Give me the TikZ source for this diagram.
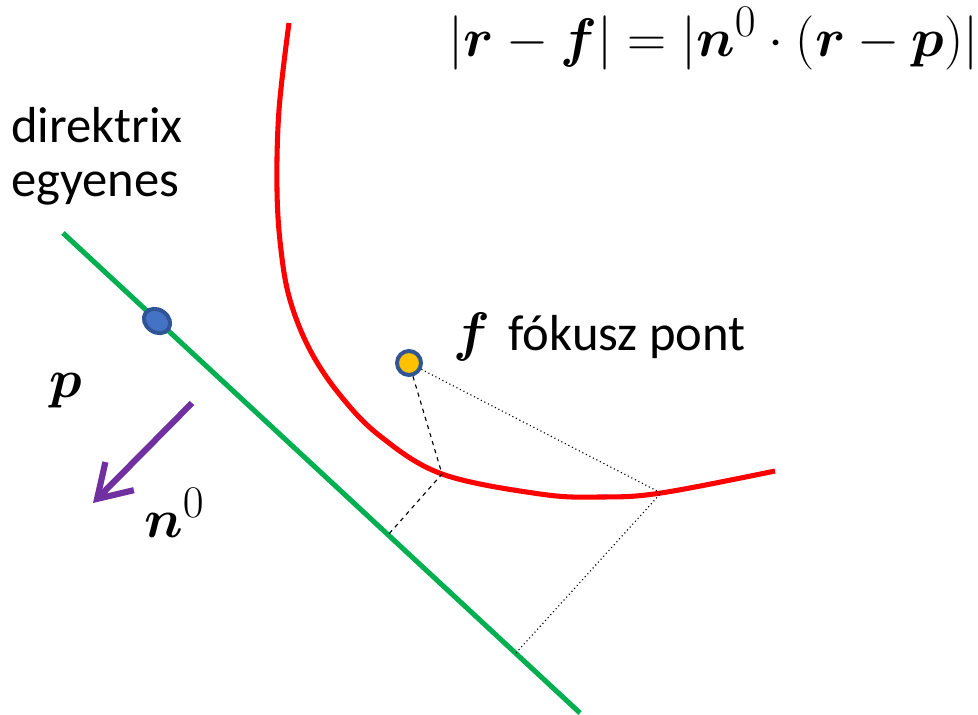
\documentclass[tikz,border=0pt]{standalone}
\usepackage{amsmath, amssymb, bm}
\usepackage{graphicx}
\usepackage{fontspec}
\setmainfont{Carlito}
\usepackage{tikz}
\usetikzlibrary{arrows.meta, positioning, shapes.geometric}
\definecolor{direktrixgreen}{RGB}{0,176,80}
\definecolor{parabolared}{RGB}{255,0,0}
\definecolor{normalpurple}{RGB}{112,48,160}
\definecolor{pointblue}{RGB}{68,114,196}
\definecolor{rimblue}{RGB}{47,85,151}
\definecolor{focusyellow}{RGB}{255,192,0}
% nagy matek: a cm fontok 24.88pt felett nem skalazodnak
\newcommand{\nagymat}[1]{\scalebox{1.55}{\fontsize{24.88}{30}\selectfont$#1$}}

\begin{document}
\begin{tikzpicture}[
  x=0.025cm, y=-0.025cm,
  font=\fontsize{36}{39}\selectfont,
  pt/.style={ellipse, draw=rimblue, line width=2.8pt, inner sep=0pt},
  direktrix/.style={line width=3.6pt, draw=direktrixgreen},
  parabola/.style={line width=3.6pt, draw=parabolared},
  normal/.style={line width=4.4pt, draw=normalpurple, -{Straight Barb[length=8mm, width=10mm]}},
  dist/.style={thick, dashed},
  dist2/.style={thick, dotted}
]
  \useasboundingbox (0,0) rectangle (978,715);

  % direktrix egyenes es a p pont
  \coordinate (d0) at (63,233);
  \coordinate (d1) at (580,713);
  \draw[direktrix] (d0) -- (d1);
  \node[pt, fill=pointblue, minimum width=0.7cm, minimum height=0.56cm, rotate=-35] (p) at (157,321) {};
  \coordinate (q1) at (388,535);
  \coordinate (q2) at (516,653);

  % parabola
  \coordinate (r1) at (442,474);
  \coordinate (r2) at (661,493);
  \draw[parabola] plot[smooth, tension=0.6] coordinates
    {(289,23) (279,110) (277,190) (281,250) (290,300) (310,350) (340,395) (380,436) (r1) (540,494) (600,497) (r2) (775,471)};

  % fokusz
  \node[pt, fill=focusyellow, minimum width=0.6cm, minimum height=0.6cm] (f) at (409,363) {};

  % tavolsagok
  \draw[dist] (f) -- (r1) -- (q1);
  \draw[dist2] (f) -- (r2) -- (q2);

  % normalvektor
  \coordinate (n0) at (192,403);
  \coordinate (n1) at (93,503);
  \draw[normal] (n0) -- (n1);

  % feliratok
  \node[align=left, anchor=base west, inner sep=0pt] (dirtext) at (11,197) {direktrix\\egyenes};
  \node[anchor=base west, inner sep=0pt] (ptext) at (49,397) {\nagymat{\bm{p}}};
  \node[anchor=base west, inner sep=0pt] (ntext) at (144,537) {\nagymat{\bm{n}^0}};
  \node[anchor=base west, inner sep=0pt] (ftext) at (453,350) {\nagymat{\bm{f}}\hspace{5pt} fókusz pont};
  \node[anchor=east, inner sep=0pt] (formula) at (979,39)
    {\nagymat{|\bm{r}-\bm{f}|=|\bm{n}^0\cdot(\bm{r}-\bm{p})|}};
\end{tikzpicture}
\end{document}
